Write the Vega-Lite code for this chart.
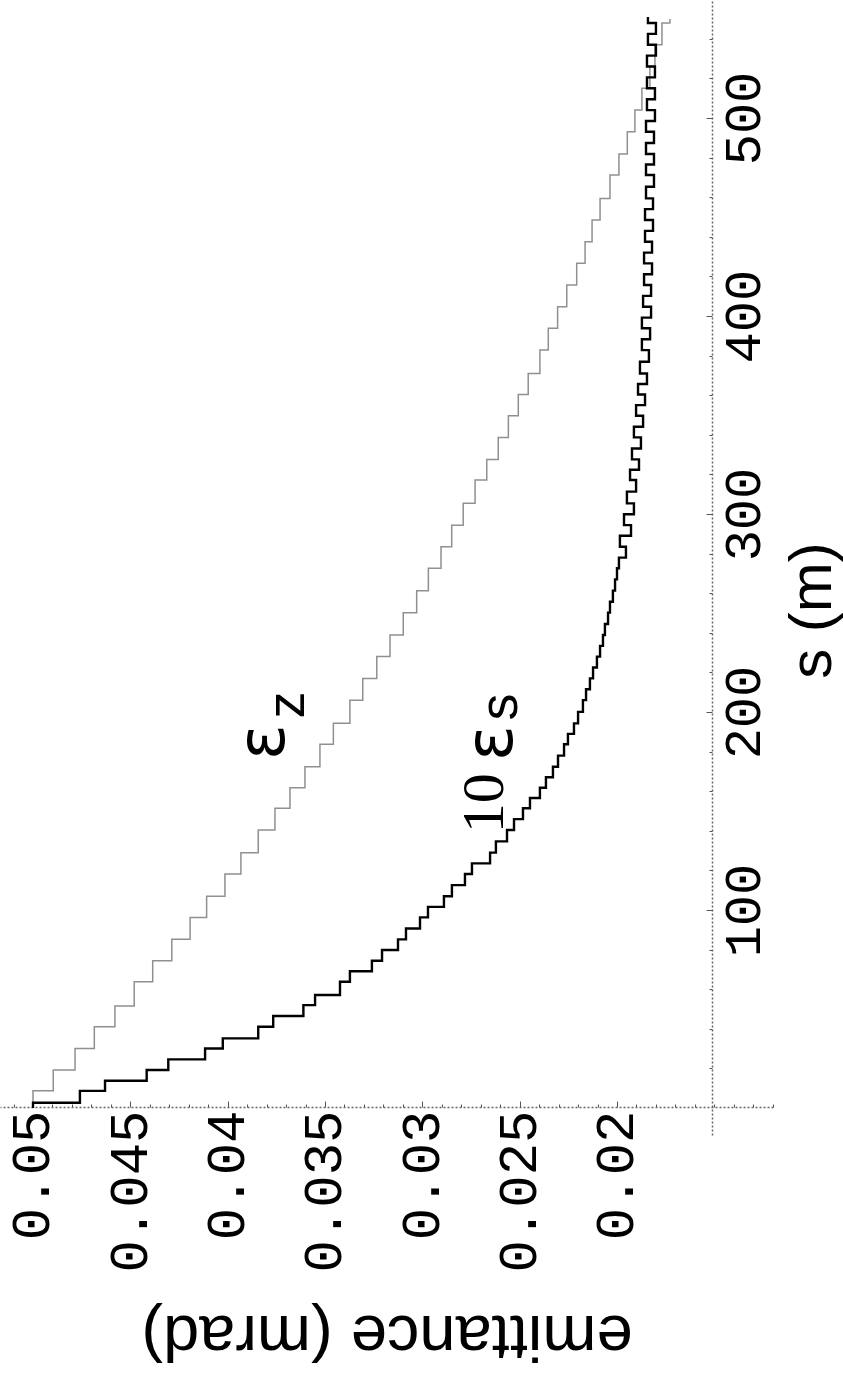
{
  "$schema": "https://vega.github.io/schema/vega-lite/v6.json",
  "width": 773,
  "height": 1135,
  "autosize": {"type": "none"},
  "padding": {"left": 0, "top": 0, "right": 70, "bottom": 247},
  "background": "white",
  "config": {"view": {"stroke": null}, "axis": {"labelOverlap": false}},
  "resolve": {"axis": {"x": "independent", "y": "independent"}},
  "datasets": {
    "curves": [
      {"curve": "ez", "s": 0, "emittance": 0.0500},
      {"curve": "ez", "s": 8.7, "emittance": 0.04896},
      {"curve": "ez", "s": 19.2, "emittance": 0.04784},
      {"curve": "ez", "s": 30.1, "emittance": 0.04685},
      {"curve": "ez", "s": 41.1, "emittance": 0.04579},
      {"curve": "ez", "s": 51.5, "emittance": 0.04480},
      {"curve": "ez", "s": 63.8, "emittance": 0.04385},
      {"curve": "ez", "s": 74.4, "emittance": 0.04287},
      {"curve": "ez", "s": 85.2, "emittance": 0.04193},
      {"curve": "ez", "s": 96.3, "emittance": 0.04108},
      {"curve": "ez", "s": 107, "emittance": 0.04014},
      {"curve": "ez", "s": 118.2, "emittance": 0.03932},
      {"curve": "ez", "s": 129, "emittance": 0.03843},
      {"curve": "ez", "s": 140.4, "emittance": 0.03757},
      {"curve": "ez", "s": 151.4, "emittance": 0.03680},
      {"curve": "ez", "s": 161.8, "emittance": 0.03603},
      {"curve": "ez", "s": 172.4, "emittance": 0.03526},
      {"curve": "ez", "s": 183.7, "emittance": 0.03457},
      {"curve": "ez", "s": 194.3, "emittance": 0.03372},
      {"curve": "ez", "s": 206, "emittance": 0.03306},
      {"curve": "ez", "s": 217, "emittance": 0.03234},
      {"curve": "ez", "s": 228, "emittance": 0.03166},
      {"curve": "ez", "s": 238.9, "emittance": 0.03098},
      {"curve": "ez", "s": 250.2, "emittance": 0.03029},
      {"curve": "ez", "s": 261.3, "emittance": 0.02969},
      {"curve": "ez", "s": 272.6, "emittance": 0.02904},
      {"curve": "ez", "s": 283.5, "emittance": 0.02849},
      {"curve": "ez", "s": 294.4, "emittance": 0.02790},
      {"curve": "ez", "s": 305.4, "emittance": 0.02729},
      {"curve": "ez", "s": 317.2, "emittance": 0.02669},
      {"curve": "ez", "s": 327.6, "emittance": 0.02610},
      {"curve": "ez", "s": 338.7, "emittance": 0.02558},
      {"curve": "ez", "s": 349.6, "emittance": 0.02507},
      {"curve": "ez", "s": 360.4, "emittance": 0.02456},
      {"curve": "ez", "s": 371, "emittance": 0.02396},
      {"curve": "ez", "s": 382.8, "emittance": 0.02353},
      {"curve": "ez", "s": 393.8, "emittance": 0.02305},
      {"curve": "ez", "s": 404.7, "emittance": 0.02258},
      {"curve": "ez", "s": 415.7, "emittance": 0.02207},
      {"curve": "ez", "s": 426.6, "emittance": 0.02164},
      {"curve": "ez", "s": 437.5, "emittance": 0.02128},
      {"curve": "ez", "s": 448.5, "emittance": 0.02087},
      {"curve": "ez", "s": 459.4, "emittance": 0.02036},
      {"curve": "ez", "s": 471.2, "emittance": 0.01990},
      {"curve": "ez", "s": 481.8, "emittance": 0.01947},
      {"curve": "ez", "s": 493.1, "emittance": 0.01908},
      {"curve": "ez", "s": 504, "emittance": 0.01872},
      {"curve": "ez", "s": 515, "emittance": 0.01831},
      {"curve": "ez", "s": 526, "emittance": 0.01805},
      {"curve": "ez", "s": 537, "emittance": 0.01769},
      {"curve": "ez", "s": 548, "emittance": 0.01728},
      {"curve": "ez", "s": 550, "emittance": 0.01728},
      {"curve": "es", "s": 0, "emittance": 0.0500},
      {"curve": "es", "s": 2.7, "emittance": 0.04759},
      {"curve": "es", "s": 8.7, "emittance": 0.04630},
      {"curve": "es", "s": 13.8, "emittance": 0.04416},
      {"curve": "es", "s": 19.2, "emittance": 0.04305},
      {"curve": "es", "s": 24.6, "emittance": 0.04116},
      {"curve": "es", "s": 30.1, "emittance": 0.04025},
      {"curve": "es", "s": 35.2, "emittance": 0.03843},
      {"curve": "es", "s": 41.1, "emittance": 0.03766},
      {"curve": "es", "s": 46.5, "emittance": 0.03611},
      {"curve": "es", "s": 52, "emittance": 0.03551},
      {"curve": "es", "s": 57.1, "emittance": 0.03423},
      {"curve": "es", "s": 63.8, "emittance": 0.03372},
      {"curve": "es", "s": 69.1, "emittance": 0.03259},
      {"curve": "es", "s": 74.4, "emittance": 0.03207},
      {"curve": "es", "s": 79.8, "emittance": 0.03125},
      {"curve": "es", "s": 85.2, "emittance": 0.03084},
      {"curve": "es", "s": 90.7, "emittance": 0.03012},
      {"curve": "es", "s": 96.3, "emittance": 0.02971},
      {"curve": "es", "s": 101.6, "emittance": 0.02889},
      {"curve": "es", "s": 107, "emittance": 0.02848},
      {"curve": "es", "s": 112.6, "emittance": 0.02781},
      {"curve": "es", "s": 118.2, "emittance": 0.02745},
      {"curve": "es", "s": 123.6, "emittance": 0.02652},
      {"curve": "es", "s": 129, "emittance": 0.02622},
      {"curve": "es", "s": 134.7, "emittance": 0.02565},
      {"curve": "es", "s": 140.4, "emittance": 0.02529},
      {"curve": "es", "s": 145.9, "emittance": 0.02483},
      {"curve": "es", "s": 151.4, "emittance": 0.02447},
      {"curve": "es", "s": 156.6, "emittance": 0.02396},
      {"curve": "es", "s": 161.8, "emittance": 0.02365},
      {"curve": "es", "s": 167.1, "emittance": 0.02329},
      {"curve": "es", "s": 172.4, "emittance": 0.02303},
      {"curve": "es", "s": 178, "emittance": 0.02272},
      {"curve": "es", "s": 183.7, "emittance": 0.02252},
      {"curve": "es", "s": 189, "emittance": 0.02221},
      {"curve": "es", "s": 194.3, "emittance": 0.02200},
      {"curve": "es", "s": 200.1, "emittance": 0.02175},
      {"curve": "es", "s": 206, "emittance": 0.02159},
      {"curve": "es", "s": 211.5, "emittance": 0.02139},
      {"curve": "es", "s": 217, "emittance": 0.02123},
      {"curve": "es", "s": 222.5, "emittance": 0.02103},
      {"curve": "es", "s": 228, "emittance": 0.02087},
      {"curve": "es", "s": 233.4, "emittance": 0.02072},
      {"curve": "es", "s": 238.9, "emittance": 0.02062},
      {"curve": "es", "s": 244.5, "emittance": 0.02046},
      {"curve": "es", "s": 250.2, "emittance": 0.02036},
      {"curve": "es", "s": 255.7, "emittance": 0.02021},
      {"curve": "es", "s": 261.3, "emittance": 0.02010},
      {"curve": "es", "s": 267, "emittance": 0.02000},
      {"curve": "es", "s": 272.6, "emittance": 0.01990},
      {"curve": "es", "s": 278, "emittance": 0.01954},
      {"curve": "es", "s": 283.5, "emittance": 0.01985},
      {"curve": "es", "s": 289, "emittance": 0.01928},
      {"curve": "es", "s": 294.4, "emittance": 0.01964},
      {"curve": "es", "s": 299.9, "emittance": 0.01913},
      {"curve": "es", "s": 305.4, "emittance": 0.01949},
      {"curve": "es", "s": 311.3, "emittance": 0.01902},
      {"curve": "es", "s": 317.2, "emittance": 0.01933},
      {"curve": "es", "s": 322.4, "emittance": 0.01887},
      {"curve": "es", "s": 327.6, "emittance": 0.01923},
      {"curve": "es", "s": 333.1, "emittance": 0.01877},
      {"curve": "es", "s": 338.7, "emittance": 0.01913},
      {"curve": "es", "s": 344.1, "emittance": 0.01866},
      {"curve": "es", "s": 349.6, "emittance": 0.01902},
      {"curve": "es", "s": 355, "emittance": 0.01856},
      {"curve": "es", "s": 360.4, "emittance": 0.01892},
      {"curve": "es", "s": 365.7, "emittance": 0.01846},
      {"curve": "es", "s": 371, "emittance": 0.01882},
      {"curve": "es", "s": 376.9, "emittance": 0.01836},
      {"curve": "es", "s": 382.8, "emittance": 0.01872},
      {"curve": "es", "s": 388.3, "emittance": 0.01830},
      {"curve": "es", "s": 393.8, "emittance": 0.01872},
      {"curve": "es", "s": 399.2, "emittance": 0.01825},
      {"curve": "es", "s": 404.7, "emittance": 0.01866},
      {"curve": "es", "s": 410.2, "emittance": 0.01825},
      {"curve": "es", "s": 415.7, "emittance": 0.01861},
      {"curve": "es", "s": 421.1, "emittance": 0.01820},
      {"curve": "es", "s": 426.6, "emittance": 0.01861},
      {"curve": "es", "s": 432, "emittance": 0.01820},
      {"curve": "es", "s": 437.5, "emittance": 0.01856},
      {"curve": "es", "s": 443, "emittance": 0.01815},
      {"curve": "es", "s": 448.5, "emittance": 0.01856},
      {"curve": "es", "s": 454, "emittance": 0.01815},
      {"curve": "es", "s": 459.4, "emittance": 0.01851},
      {"curve": "es", "s": 465.3, "emittance": 0.01810},
      {"curve": "es", "s": 471.2, "emittance": 0.01851},
      {"curve": "es", "s": 476.5, "emittance": 0.01810},
      {"curve": "es", "s": 481.8, "emittance": 0.01851},
      {"curve": "es", "s": 487.4, "emittance": 0.01810},
      {"curve": "es", "s": 493.1, "emittance": 0.01851},
      {"curve": "es", "s": 498.5, "emittance": 0.01805},
      {"curve": "es", "s": 504, "emittance": 0.01846},
      {"curve": "es", "s": 509.5, "emittance": 0.01805},
      {"curve": "es", "s": 515, "emittance": 0.01846},
      {"curve": "es", "s": 520.5, "emittance": 0.01805},
      {"curve": "es", "s": 526, "emittance": 0.01846},
      {"curve": "es", "s": 531.5, "emittance": 0.01800},
      {"curve": "es", "s": 537, "emittance": 0.01841},
      {"curve": "es", "s": 542.5, "emittance": 0.01800},
      {"curve": "es", "s": 548, "emittance": 0.01841},
      {"curve": "es", "s": 551, "emittance": 0.01841}
    ],
    "labels": [
      {"text": "ε", "s": 184.8, "emittance": 0.03813},
      {"text": "z", "s": 203.5, "emittance": 0.03690},
      {"text": "10", "s": 154, "emittance": 0.02678},
      {"text": "ε", "s": 184.3, "emittance": 0.02642},
      {"text": "s", "s": 202.5, "emittance": 0.02596}
    ]
  },
  "layer": [
    {
      "data": {"name": "curves"},
      "transform": [{"filter": "datum.curve == 'ez'"}],
      "mark": {"type": "line", "interpolate": "step-before", "clip": true, "color": "#909090", "strokeWidth": 1.5},
      "encoding": {
        "x": {
          "field": "emittance",
          "type": "quantitative",
          "scale": {"domain": [0.011986, 0.051695], "reverse": true, "nice": false, "zero": false},
          "axis": {
            "orient": "bottom",
            "offset": -28,
            "title": null,
            "labels": false,
            "values": [0.012, 0.013, 0.014, 0.015, 0.016, 0.017, 0.018, 0.019, 0.021, 0.022, 0.023, 0.024, 0.026, 0.027, 0.028, 0.029, 0.031, 0.032, 0.033, 0.034, 0.036, 0.037, 0.038, 0.039, 0.041, 0.042, 0.043, 0.044, 0.046, 0.047, 0.048, 0.049, 0.051],
            "tickSize": -3,
            "tickColor": "#555555",
            "domainColor": "#666666",
            "domainDash": [2, 2],
            "domainWidth": 1.5,
            "grid": false
          }
        },
        "y": {
          "field": "s",
          "type": "quantitative",
          "scale": {"domain": [-13.6, 559.6], "nice": false, "zero": false},
          "axis": {
            "orient": "right",
            "offset": -61,
            "title": null,
            "labels": false,
            "values": [20, 40, 60, 80, 120, 140, 160, 180, 220, 240, 260, 280, 320, 340, 360, 380, 420, 440, 460, 480, 520, 540],
            "tickSize": -3,
            "tickColor": "#555555",
            "domainColor": "#666666",
            "domainDash": [2, 2],
            "domainWidth": 1.5,
            "grid": false
          }
        },
        "order": {"field": "s", "type": "quantitative"}
      }
    },
    {
      "data": {"name": "curves"},
      "transform": [{"filter": "datum.curve == 'es'"}],
      "mark": {"type": "line", "interpolate": "step-before", "clip": true, "color": "#000000", "strokeWidth": 2.4},
      "encoding": {
        "x": {
          "field": "emittance",
          "type": "quantitative",
          "axis": {
            "orient": "bottom",
            "offset": -28,
            "domain": false,
            "title": "emittance (mrad)",
            "titleFont": "Liberation Sans",
            "titleFontSize": 65,
            "titleFontWeight": "normal",
            "titleColor": "black",
            "titleAngle": 180,
            "titleAlign": "center",
            "titleBaseline": "middle",
            "titleY": 228,
            "values": [0.02, 0.025, 0.03, 0.035, 0.04, 0.045, 0.05],
            "format": ".3~f",
            "labelFont": "Liberation Mono",
            "labelFontSize": 54,
            "tickSize": -6,
            "labelColor": "black",
            "labelAngle": 270,
            "labelAlign": "right",
            "labelBaseline": "middle",
            "labelPadding": 9,
            "labelOverlap": false,
            "labelFlush": false,
            "labelBound": false,
            "labelLimit": 0,
            "tickColor": "#555555",
            "grid": false
          }
        },
        "y": {
          "field": "s",
          "type": "quantitative",
          "axis": {
            "orient": "right",
            "offset": -61,
            "domain": false,
            "title": "s (m)",
            "titleFont": "Liberation Sans",
            "titleFontSize": 60,
            "titleFontWeight": "normal",
            "titleColor": "black",
            "titleAngle": 270,
            "titleAlign": "center",
            "titleBaseline": "middle",
            "titleX": 100,
            "titleY": 610,
            "values": [100, 200, 300, 400, 500],
            "tickSize": -6,
            "labelFont": "Liberation Mono",
            "labelFontSize": 52,
            "labelColor": "black",
            "labelAngle": 270,
            "labelAlign": "center",
            "labelBaseline": "top",
            "labelPadding": 12,
            "labelOverlap": false,
            "labelFlush": false,
            "labelBound": false,
            "labelLimit": 0,
            "tickColor": "#555555",
            "grid": false
          }
        },
        "order": {"field": "s", "type": "quantitative"}
      }
    },
    {
      "data": {"name": "labels"},
      "transform": [{"filter": "datum.text == 'ε'"}],
      "mark": {"type": "text", "angle": 270, "font": "DejaVu Sans", "fontSize": 66, "align": "center", "baseline": "middle", "color": "black"},
      "encoding": {
        "x": {"field": "emittance", "type": "quantitative", "axis": null},
        "y": {"field": "s", "type": "quantitative", "axis": null},
        "text": {"field": "text"}
      }
    },
    {
      "data": {"name": "labels"},
      "transform": [{"filter": "datum.text == 'z' || datum.text == 's'"}],
      "mark": {"type": "text", "angle": 270, "font": "Liberation Sans", "fontSize": 54, "align": "center", "baseline": "middle", "color": "black"},
      "encoding": {
        "x": {"field": "emittance", "type": "quantitative", "axis": null},
        "y": {"field": "s", "type": "quantitative", "axis": null},
        "text": {"field": "text"}
      }
    },
    {
      "data": {"name": "labels"},
      "transform": [{"filter": "datum.text == '10'"}],
      "mark": {"type": "text", "angle": 270, "font": "Liberation Serif", "fontSize": 60, "align": "center", "baseline": "middle", "color": "black"},
      "encoding": {
        "x": {"field": "emittance", "type": "quantitative", "axis": null},
        "y": {"field": "s", "type": "quantitative", "axis": null},
        "text": {"field": "text"}
      }
    }
  ]
}
